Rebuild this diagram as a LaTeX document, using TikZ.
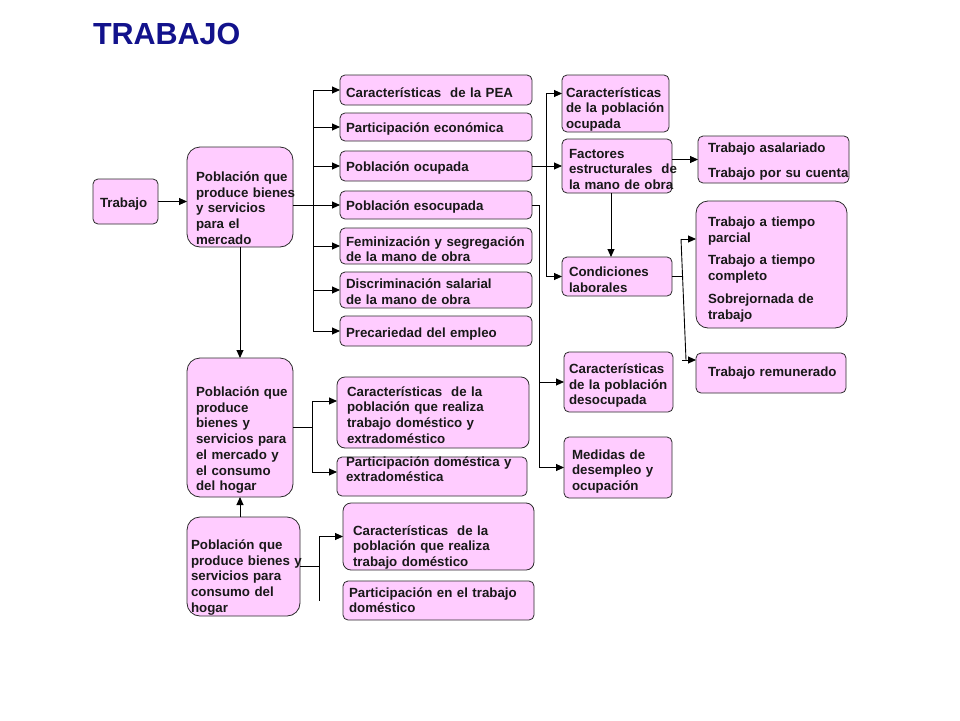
\documentclass[tikz,border=0pt]{standalone}
\usepackage{fontspec}
\setmainfont{Liberation Sans}
\usetikzlibrary{arrows.meta}
\definecolor{rosa}{HTML}{FFCCFF}
\definecolor{marco}{HTML}{2B2B2B}
\definecolor{azul}{RGB}{18,18,140}
\hyphenpenalty=10000
\exhyphenpenalty=10000
\tikzset{formato/.style n args={4}{text width=#1, inner xsep=#2, text height=#3, text depth=#4}}

\begin{document}
\begin{tikzpicture}[x=1pt,y=-1pt]
\tikzstyle{every node}=[inner ysep=0pt, outer sep=0pt]
\tikzstyle{caja}=[draw=marco, fill=rosa, line width=0.8pt, rounded corners=5pt, anchor=north west, align=left, text=black!90, font=\bfseries\fontsize{13.3}{15.7}\selectfont]
\tikzstyle{grande}=[caja, rounded corners=13pt]
\tikzstyle{flecha}=[-{Triangle[length=8pt,width=7pt]}, line width=0.9pt]
\tikzstyle{linea}=[line width=0.9pt]
\fill[white] (0,0) rectangle (960,720);
\useasboundingbox (0,0) rectangle (960,720);

\node[anchor=base west, inner sep=0pt, text=azul, font=\bfseries\fontsize{30.5}{36}\selectfont] (titulo) at (93,44.3) {TRABAJO};

\node[caja, formato={51pt}{7pt}{28.5pt}{16.5pt}] (trabajo) at (93,179) {Trabajo};
\node[grande, formato={88pt}{9pt}{34.5pt}{65.5pt}] (pob1) at (187,147)
  {Población~que\\produce~bienes\\y servicios\\para el\\mercado};
\node[grande, formato={88pt}{9pt}{38.5pt}{100.5pt}] (pob2) at (187,358)
  {Población~que\\produce\\bienes y\\servicios~para\\el mercado y\\el consumo\\del hogar};
\node[grande, formato={105pt}{4pt}{32.5pt}{66.5pt}] (pob3) at (187,517)
  {Población que\\produce~bienes~y\\servicios para\\consumo del\\hogar};

\node[caja, formato={180pt}{6pt}{22.5pt}{7.5pt}] (pea) at (340,75) {Características\ \ de la PEA};
\node[caja, formato={180pt}{6pt}{19.5pt}{8.5pt}] (parte) at (340,113) {Participación económica};
\node[caja, formato={180pt}{6pt}{20.5pt}{9.5pt}] (ocup) at (340,151) {Población ocupada};
\node[caja, formato={180pt}{6pt}{19pt}{9pt}] (esocup) at (340,191) {Población esocupada};
\node[caja, formato={180pt}{6pt}{18pt}{18pt}] (femin) at (340,228) {Feminización~y~segregación\\de la mano de obra};
\node[caja, formato={180pt}{6pt}{16.5pt}{19.5pt}] (discrim) at (340,272) {Discriminación salarial\\de la mano de obra};
\node[caja, formato={180pt}{6pt}{21pt}{9pt}] (precar) at (340,316) {Precariedad del empleo};

\node[caja, rounded corners=8pt, formato={172pt}{10pt}{19pt}{52pt}] (cdomext) at (337,377)
  {Características\ \ de la\\población que realiza\\trabajo doméstico y\\extradoméstico};
\node[caja, formato={172pt}{9pt}{9pt}{30pt}] (pdomext) at (337,457) {Participación~doméstica~y\\extradoméstica};
\node[caja, rounded corners=8pt, formato={171pt}{10pt}{32pt}{35pt}] (cdom) at (343,503)
  {Características\ \ de la\\población que realiza\\trabajo doméstico};
\node[caja, formato={179pt}{6pt}{16pt}{23pt}] (ptdom) at (343,581) {Participación en el trabajo\\doméstico};

\node[caja, formato={99pt}{4pt}{22pt}{35pt}] (cocup) at (562,75) {Características\\de~la~población\\ocupada};
\node[caja, formato={96pt}{7pt}{19pt}{35pt}] (factores) at (562,139) {Factores\\estructurales~\ de\\la~mano~de~obra};
\node[caja, formato={96pt}{7pt}{19.5pt}{19.5pt}] (condic) at (562,257) {Condiciones\\laborales};
\node[caja, formato={99pt}{5pt}{21.5pt}{38.5pt}] (cdesoc) at (564,352) {Características\\de~la~población\\desocupada};
\node[caja, formato={92pt}{8pt}{22pt}{39pt}] (medidas) at (564,437) {Medidas de\\desempleo y\\ocupación};

\node[caja, formato={131pt}{10pt}{16.5pt}{30.5pt}] (asal) at (698,136) {Trabajo asalariado\\[9pt]Trabajo~por~su~cuenta};
\node[caja, rounded corners=12pt, formato={127pt}{12pt}{25.5pt}{101.5pt}] (tiempo) at (696,201)
  {Trabajo a tiempo\\parcial\\[7pt]Trabajo a tiempo\\completo\\[7pt]Sobrejornada de\\trabajo};
\node[caja, formato={126pt}{12pt}{23.5pt}{16.5pt}] (remun) at (696,353) {Trabajo~remunerado};

\coordinate (bus1) at (313,0);
\coordinate (bus2) at (312,0);
\coordinate (bus3) at (319,0);
\coordinate (bus4) at (546,0);
\coordinate (bus5) at (539,0);
\coordinate (c1) at (681,239);
\coordinate (c2) at (686,360);

\draw[flecha] (trabajo) -- (trabajo -| pob1.west);
\draw[flecha] (pob1.east |- esocup) -- (esocup);
\draw[linea] (bus1 |- pea) -- (bus1 |- precar);
\foreach \n in {pea,parte,ocup,femin,discrim,precar}
  \draw[flecha] (bus1 |- \n) -- (\n);
\draw[flecha] (pob1) -- (pob2);
\draw[flecha] (pob3.north -| pob2.south) -- (pob2.south);

\draw[linea] (pob2) -- (pob2 -| bus2);
\draw[linea] ([yshift=11.5pt]cdomext.west -| bus2) -- ([yshift=4.5pt]pdomext.west -| bus2);
\draw[flecha] ([yshift=11.5pt]cdomext.west -| bus2) -- ([yshift=11.5pt]cdomext.west);
\draw[flecha] ([yshift=4.5pt]pdomext.west -| bus2) -- ([yshift=4.5pt]pdomext.west);

\draw[linea] (pob3) -- (pob3 -| bus3);
\draw[linea] (bus3 |- cdom) -- (bus3 |- ptdom);
\draw[flecha] (bus3 |- cdom) -- (cdom);

\draw[flecha] (ocup) -- (factores);
\draw[linea] ([yshift=10pt]cocup.west -| bus4) -- (bus4 |- condic);
\draw[flecha] ([yshift=10pt]cocup.west -| bus4) -- ([yshift=10pt]cocup.west);
\draw[flecha] (bus4 |- condic) -- (condic);
\draw[flecha] (factores.east |- asal) -- (asal);
\draw[flecha] ([xshift=-6pt]factores.south) -- ([xshift=-6pt]condic.north);

\draw[linea] (condic.east) -- ++(10.5,0);
\draw[linea] (c1) -- (c2);
\draw[flecha] (c1) -- (c1 -| tiempo.west);
\draw[flecha] ([xshift=-4pt]c2) -- (c2 -| remun.west);

\draw[linea] (esocup) -- (esocup -| bus5) -- (bus5 |- medidas);
\draw[flecha] (bus5 |- cdesoc) -- (cdesoc);
\draw[flecha] (bus5 |- medidas) -- (medidas);
\end{tikzpicture}
\end{document}
